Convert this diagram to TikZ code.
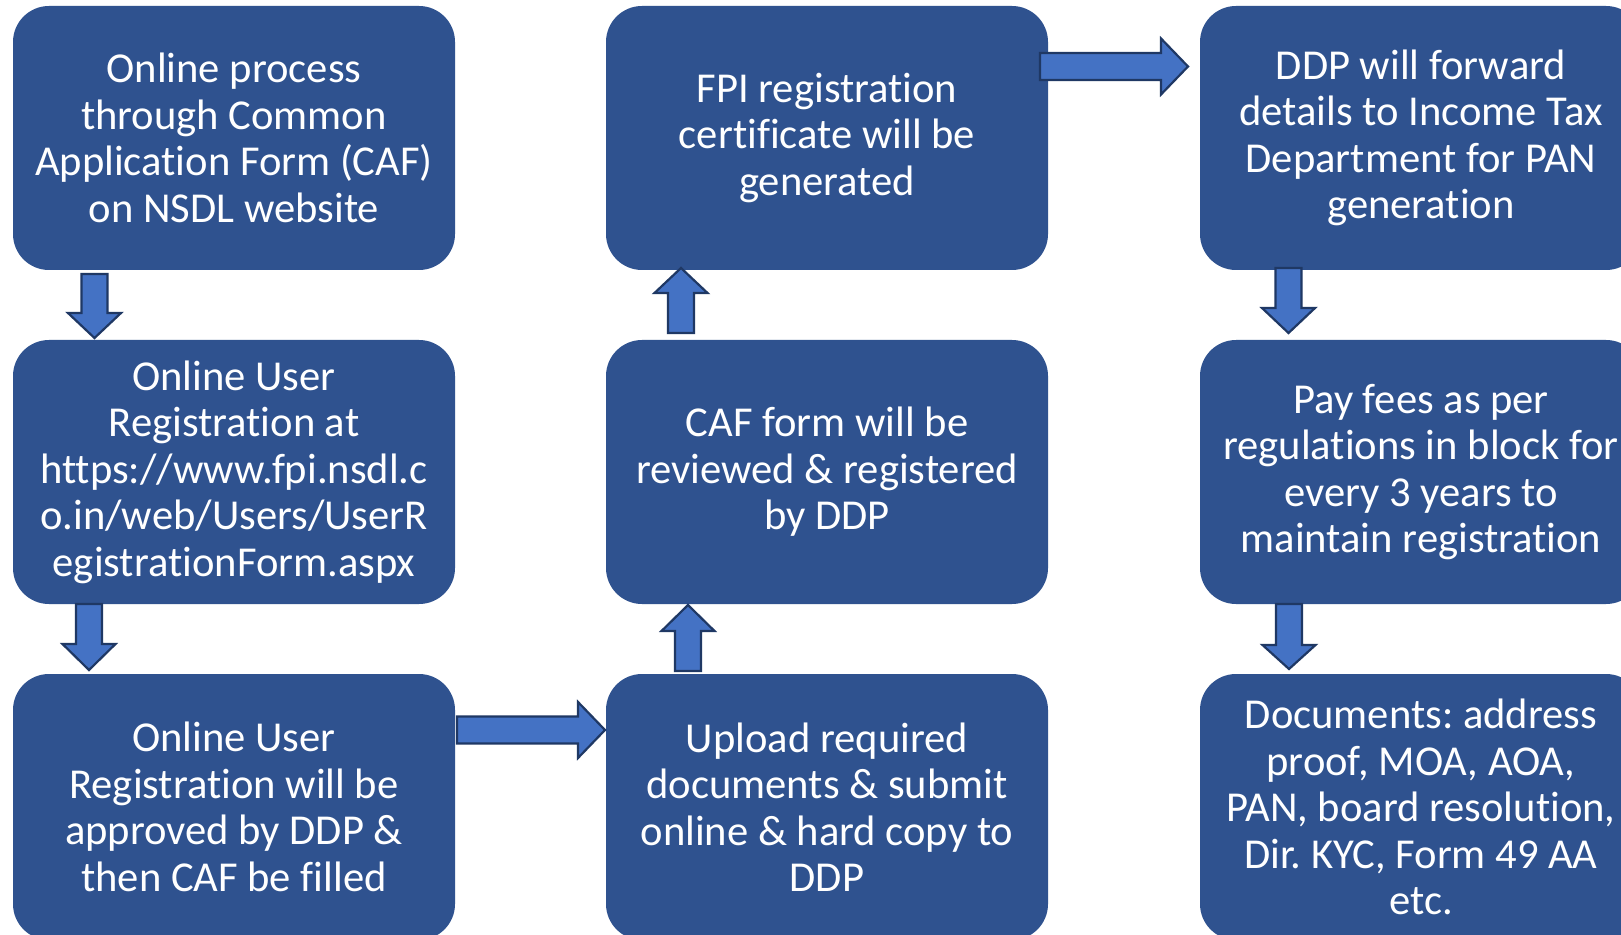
\documentclass[tikz,border=0pt]{standalone}
\usepackage{fontspec}
\setmainfont[Ligatures=NoCommon]{Carlito}
\definecolor{boxblue}{HTML}{2F528F}
\definecolor{arrfill}{HTML}{4472C4}
\definecolor{arrline}{HTML}{1F3864}
\tikzset{
  stepbox/.style={fill=boxblue, draw=none, rounded corners=18pt,
    minimum width=221pt, minimum height=132pt, text=white, align=center,
    font=\fontsize{21.3}{23.25}\selectfont\frenchspacing, inner sep=0pt},
  barrow/.style={fill=arrfill, draw=arrline, line width=1.1pt, line join=miter}
}
% vertical block arrow: x, base y, head-base y, tip y
\newcommand\blkvert[4]{\draw[barrow] (#1-13,#2) -- (#1+13,#2) -- (#1+13,#3) -- (#1+26.5,#3) -- (#1,#4) -- (#1-26.5,#3) -- (#1-13,#3) -- cycle;}
% horizontal block arrow: y, base x, head-base x, tip x
\newcommand\blkhoriz[4]{\draw[barrow] (#2,#1-13.5) -- (#2,#1+13.5) -- (#3,#1+13.5) -- (#3,#1+28) -- (#4,#1) -- (#3,#1-28) -- (#3,#1-13.5) -- cycle;}
\begin{document}
\begin{tikzpicture}[x=0.5pt,y=-0.5pt]
\useasboundingbox (0,0) rectangle (1621,935);
\clip (0,0) rectangle (1621,935);
\fill[white] (0,0) rectangle (1621,935);

\node[stepbox] (b1) at (234,138) {Online process\\through Common\\Application Form (CAF)\\on NSDL website};
\node[stepbox] (b2) at (234,472) {Online User\\Registration at\\https://www.fpi.nsdl.c\\o.in/web/Users/UserR\\egistrationForm.aspx};
\node[stepbox, minimum height=133pt] (b3) at (234,807) {Online User\\Registration will be\\approved by DDP \&\\then CAF be filled};
\node[stepbox, minimum height=133pt] (b4) at (827,807) {Upload required\\documents \& submit\\online \& hard copy to\\DDP};
\node[stepbox] (b5) at (827,472) {CAF form will be\\reviewed \& registered\\by DDP};
\node[stepbox] (b6) at (827,138) {FPI registration\\certificate will be\\generated};
\node[stepbox] (b7) at (1421,138) {DDP will forward\\details to Income Tax\\Department for PAN\\generation};
\node[stepbox] (b8) at (1421,472) {Pay fees as per\\regulations in block for\\every 3 years to\\maintain registration};
\node[stepbox, minimum height=133pt] (b9) at (1421,807) {Documents: address\\proof, MOA, AOA,\\PAN, board resolution,\\Dir. KYC, Form 49 AA\\etc.};

% arrows
\blkvert{94.5}{274}{313}{338}
\blkvert{89}{604}{644}{670}
\blkhoriz{730}{457}{578}{605}
\blkvert{688}{671}{631}{605}
\blkvert{681}{333}{293}{268}
\blkhoriz{66.5}{1040}{1161}{1188}
\blkvert{1288.5}{268}{308}{333}
\blkvert{1289}{604}{645}{669}
\end{tikzpicture}
\end{document}
